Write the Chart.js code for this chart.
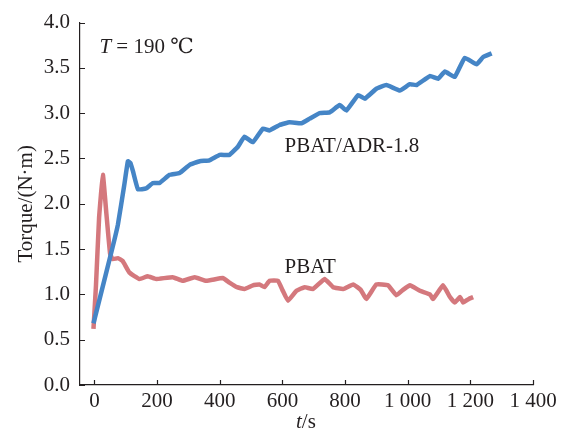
<!DOCTYPE html>
<html>
<head>
<meta charset="utf-8">
<script src="https://cdn.jsdelivr.net/npm/chart.js@4.4.1/dist/chart.umd.min.js"></script>
<style>
  html, body { margin: 0; padding: 0; background: #fff; }
  #wrap { width: 566px; height: 434px; }
</style>
</head>
<body>
<div id="wrap"><canvas id="chartcontainer" width="566" height="434"></canvas></div>
<script>
// PBAT torque curve (t in s, torque in N·m)
const pbatTime = [-3, 5, 15, 27, 38, 50, 58, 75, 90, 112, 144, 170, 197, 250, 282, 320, 357, 410, 431, 455, 479, 506, 527, 543, 559, 586, 600, 618, 645, 671, 698, 735, 762, 794, 826, 850, 868, 900, 937, 964, 985, 1007, 1039, 1071, 1081, 1113, 1135, 1150, 1167, 1177, 1195, 1209];
const pbatTorque = [0.62, 1.1, 1.85, 2.32, 1.9, 1.45, 1.39, 1.4, 1.37, 1.24, 1.17, 1.2, 1.17, 1.19, 1.15, 1.19, 1.15, 1.18, 1.13, 1.08, 1.06, 1.10, 1.11, 1.08, 1.15, 1.15, 1.05, 0.93, 1.04, 1.08, 1.06, 1.17, 1.08, 1.06, 1.11, 1.05, 0.95, 1.11, 1.10, 0.99, 1.05, 1.10, 1.04, 1.0, 0.95, 1.1, 0.97, 0.91, 0.97, 0.91, 0.95, 0.97];

// PBAT/ADR-1.8 torque curve
const adrTime = [-3, 58, 75, 95, 107, 115, 123, 139, 165, 187, 208, 240, 272, 304, 336, 367, 400, 431, 458, 479, 506, 538, 559, 591, 623, 661, 687, 719, 751, 783, 804, 842, 863, 900, 932, 975, 1007, 1028, 1071, 1097, 1119, 1150, 1182, 1220, 1241, 1268];
const adrTorque = [0.68, 1.52, 1.77, 2.2, 2.47, 2.45, 2.36, 2.16, 2.17, 2.23, 2.23, 2.32, 2.34, 2.43, 2.47, 2.48, 2.54, 2.54, 2.63, 2.74, 2.68, 2.83, 2.81, 2.87, 2.9, 2.89, 2.94, 3.0, 3.01, 3.09, 3.03, 3.2, 3.16, 3.27, 3.31, 3.25, 3.32, 3.31, 3.41, 3.38, 3.46, 3.4, 3.61, 3.54, 3.62, 3.66];

const xTicks = [0, 200, 400, 600, 800, 1000, 1200, 1400];
const xTickLabels = ["0", "200", "400", "600", "800", "1 000", "1 200", "1 400"];
const yTicks = [0, 0.5, 1.0, 1.5, 2.0, 2.5, 3.0, 3.5, 4.0];

const serif = "'Liberation Serif', 'DejaVu Serif', serif";
const ink = "#231f20";
const fs = 21;

function toPoints(xs, ys) {
    return xs.map((x, i) => ({ x: x, y: ys[i] }));
}

// inward tick marks, curve labels and the x title
const decorations = {
    id: "decorations",
    afterDraw(chart) {
        const c = chart.ctx;
        const xs = chart.scales.x;
        const ys = chart.scales.y;
        const area = chart.chartArea;
        c.save();
        c.strokeStyle = ink;
        c.lineWidth = 1.2;
        c.beginPath();
        xTicks.forEach(v => {
            const px = Math.round(xs.getPixelForValue(v)) + 0.5;
            c.moveTo(px, area.bottom);
            c.lineTo(px, area.bottom - 5);
        });
        yTicks.forEach(v => {
            const py = Math.round(ys.getPixelForValue(v)) + 0.5;
            c.moveTo(area.left, py);
            c.lineTo(area.left + 5, py);
        });
        c.stroke();

        c.fillStyle = ink;
        c.textBaseline = "middle";
        c.textAlign = "left";
        c.font = fs + "px " + serif;
        c.fillText("PBAT/ADR-1.8", xs.getPixelForValue(607), ys.getPixelForValue(2.63));
        c.fillText("PBAT", xs.getPixelForValue(607), ys.getPixelForValue(1.30));

        // T = 190 ℃
        let x0 = xs.getPixelForValue(16);
        const y0 = ys.getPixelForValue(3.73);
        c.font = "italic " + fs + "px " + serif;
        c.fillText("T", x0, y0);
        x0 += c.measureText("T").width;
        c.font = fs + "px " + serif;
        c.fillText(" = 190 \u2103", x0, y0);

        // t/s
        const mid = 296;
        c.font = "italic " + fs + "px " + serif;
        const wt = c.measureText("t").width;
        c.fillText("t", mid, 422);
        c.font = fs + "px " + serif;
        c.fillText("/s", mid + wt, 422);
        c.restore();
    }
};

const options = {
    type: "scatter",
    data: {
        datasets: [
            {
                label: "PBAT/ADR-1.8",
                data: toPoints(adrTime, adrTorque),
                borderColor: "#4585c6",
                backgroundColor: "#4585c6",
                borderWidth: 4.5,
                pointRadius: 0,
                showLine: true,
                tension: 0.1,
                fill: false,
            },
            {
                label: "PBAT",
                data: toPoints(pbatTime, pbatTorque),
                borderColor: "#d4787d",
                backgroundColor: "#d4787d",
                borderWidth: 4.5,
                pointRadius: 0,
                showLine: true,
                tension: 0.1,
                fill: false,
            },
        ],
    },
    options: {
        responsive: false,
        animation: false,
        layout: {
            padding: { left: 0, right: 33, top: 20, bottom: 0 },
        },
        scales: {
            x: {
                type: "linear",
                min: -46,
                max: 1400,
                afterBuildTicks: (scale) => {
                    scale.ticks = xTicks.map(v => ({ value: v }));
                },
                afterFit: (scale) => { scale.height = 49; },
                grid: { display: false, drawTicks: false },
                border: { display: true, color: ink, width: 1.2 },
                ticks: {
                    autoSkip: false,
                    maxRotation: 0,
                    padding: 4,
                    color: ink,
                    font: { family: serif, size: fs },
                    callback: (v) => {
                        const i = xTicks.indexOf(v);
                        return i >= 0 ? xTickLabels[i] : "";
                    },
                },
            },
            y: {
                min: 0,
                max: 4.0,
                afterBuildTicks: (scale) => {
                    scale.ticks = yTicks.map(v => ({ value: v }));
                },
                afterFit: (scale) => { scale.width = 80; },
                grid: { display: false, drawTicks: false },
                border: { display: true, color: ink, width: 1.2 },
                ticks: {
                    padding: 10,
                    color: ink,
                    font: { family: serif, size: fs },
                    callback: (v) => v.toFixed(1),
                },
                title: {
                    display: true,
                    text: "Torque/(N\u00b7m)",
                    color: ink,
                    font: { family: serif, size: fs },
                    padding: { top: 14, bottom: 0 },
                },
            },
        },
        plugins: {
            legend: { display: false },
            tooltip: { enabled: false },
        },
    },
    plugins: [decorations],
};

const ctx = document.getElementById("chartcontainer").getContext("2d");
const chart = new Chart(ctx, options);
</script>
</body>
</html>
